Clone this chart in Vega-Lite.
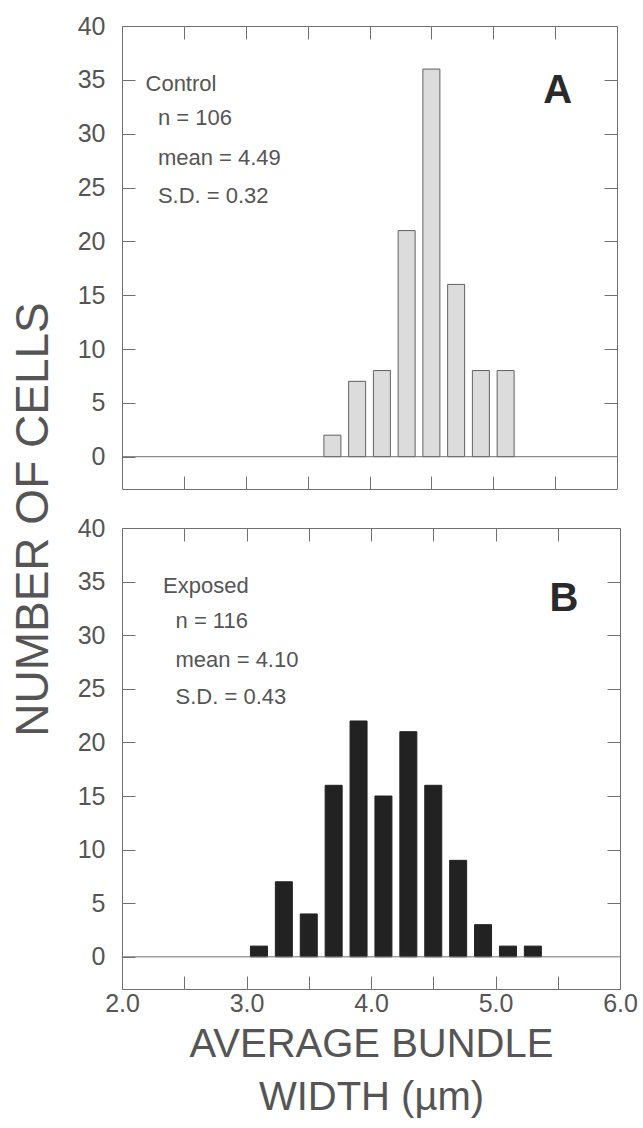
{
  "$schema": "https://vega.github.io/schema/vega-lite/v6.json",
  "background": "white",
  "padding": {"left": 10, "top": 13, "right": 0, "bottom": 3},
  "config": {
    "font": "Liberation Sans",
    "view": {"stroke": "#707070", "strokeWidth": 1},
    "axis": {
      "domain": false, "grid": false, "tickSize": -13, "tickColor": "#707070", "tickWidth": 1,
      "labelColor": "#555", "labelFontSize": 25, "labelFont": "Liberation Sans",
      "titleColor": "#555", "titleFont": "Liberation Sans", "titleFontWeight": "normal"
    },
    "title": {"font": "Liberation Sans"}
  },
  "title": {"text": "NUMBER OF CELLS", "orient": "left", "anchor": "middle", "fontSize": 46, "fontWeight": "normal", "color": "#555", "offset": 19, "dx": 46},
  "spacing": 25,
  "datasets": {
    "control": [
      {"width": 3.7, "cells": 2}, {"width": 3.9, "cells": 7}, {"width": 4.1, "cells": 8}, {"width": 4.3, "cells": 21},
      {"width": 4.5, "cells": 36}, {"width": 4.7, "cells": 16}, {"width": 4.9, "cells": 8}, {"width": 5.1, "cells": 8}
    ],
    "exposed": [
      {"width": 3.1, "cells": 1}, {"width": 3.3, "cells": 7}, {"width": 3.5, "cells": 4}, {"width": 3.7, "cells": 16},
      {"width": 3.9, "cells": 22}, {"width": 4.1, "cells": 15}, {"width": 4.3, "cells": 21}, {"width": 4.5, "cells": 16},
      {"width": 4.7, "cells": 9}, {"width": 4.9, "cells": 3}, {"width": 5.1, "cells": 1}, {"width": 5.3, "cells": 1}
    ],
    "notesA": [
      {"x": 2.19, "y": 34.6, "label": "Control"},
      {"x": 2.29, "y": 31.5, "label": "n = 106"},
      {"x": 2.29, "y": 27.7, "label": "mean = 4.49"},
      {"x": 2.29, "y": 24.2, "label": "S.D. = 0.32"}
    ],
    "notesB": [
      {"x": 2.33, "y": 34.6, "label": "Exposed"},
      {"x": 2.43, "y": 31.3, "label": "n = 116"},
      {"x": 2.43, "y": 27.7, "label": "mean = 4.10"},
      {"x": 2.43, "y": 24.2, "label": "S.D. = 0.43"}
    ],
    "letterA": [{"x": 5.52, "y": 34.0, "label": "A"}],
    "letterB": [{"x": 5.55, "y": 33.4, "label": "B"}],
    "baseline": [{"level": 0}]
  },
  "vconcat": [
    {
      "width": 495, "height": 463,
      "layer": [
        {
          "data": {"name": "control"},
          "mark": {"type": "bar", "width": 17, "fill": "#dcdcdc", "stroke": "#606060", "strokeWidth": 1},
          "encoding": {
            "x": {"field": "width", "type": "quantitative", "scale": {"domain": [2, 6], "nice": false, "zero": false, "padding": 0},
                  "axis": {"orient": "bottom", "values": [2.5, 3, 3.5, 4, 4.5, 5, 5.5], "labels": false, "title": null}},
            "y": {"field": "cells", "type": "quantitative", "scale": {"domain": [-3, 40], "nice": false, "zero": false},
                  "axis": {"orient": "left", "values": [0, 5, 10, 15, 20, 25, 30, 35, 40], "labelPadding": 30, "title": null}},
            "y2": {"datum": 0}
          }
        },
        {
          "data": {"name": "baseline"},
          "mark": {"type": "rule", "color": "#707070", "strokeWidth": 1},
          "encoding": {"y": {"field": "level", "type": "quantitative", "axis": null}}
        },
        {
          "data": {"name": "notesA"},
          "mark": {"type": "text", "align": "left", "baseline": "middle", "fontSize": 22, "color": "#555"},
          "encoding": {
            "x": {"field": "x", "type": "quantitative", "axis": {"orient": "top", "values": [2.5, 3, 3.5, 4, 4.5, 5, 5.5], "labels": false, "title": null}},
            "y": {"field": "y", "type": "quantitative", "axis": {"orient": "right", "values": [5, 10, 15, 20, 25, 30, 35], "labels": false, "title": null}},
            "text": {"field": "label"}
          }
        },
        {
          "data": {"name": "letterA"},
          "mark": {"type": "text", "align": "center", "baseline": "middle", "fontSize": 40, "fontWeight": "bold", "color": "#2a2a2a"},
          "encoding": {
            "x": {"field": "x", "type": "quantitative", "axis": null},
            "y": {"field": "y", "type": "quantitative", "axis": null},
            "text": {"field": "label"}
          }
        }
      ],
      "resolve": {"axis": {"x": "independent", "y": "independent"}}
    },
    {
      "width": 498, "height": 461,
      "layer": [
        {
          "data": {"name": "exposed"},
          "mark": {"type": "bar", "width": 17, "fill": "#222", "stroke": "#222", "strokeWidth": 1},
          "encoding": {
            "x": {"field": "width", "type": "quantitative", "scale": {"domain": [2, 6], "nice": false, "zero": false, "padding": 0},
                  "axis": {"orient": "bottom", "values": [2, 2.5, 3, 3.5, 4, 4.5, 5, 5.5, 6], "labelExpr": "datum.value % 1 === 0 ? format(datum.value, '.1f') : ''",
                           "labelFlush": false, "labelOverlap": false, "labelPadding": 15,
                           "title": ["AVERAGE BUNDLE", "WIDTH (µm)"], "titleFontSize": 40, "titleLineHeight": 53, "titlePadding": 8}},
            "y": {"field": "cells", "type": "quantitative", "scale": {"domain": [-3, 40], "nice": false, "zero": false},
                  "axis": {"orient": "left", "values": [0, 5, 10, 15, 20, 25, 30, 35, 40], "labelPadding": 30, "title": null}},
            "y2": {"datum": 0}
          }
        },
        {
          "data": {"name": "baseline"},
          "mark": {"type": "rule", "color": "#707070", "strokeWidth": 1},
          "encoding": {"y": {"field": "level", "type": "quantitative", "axis": null}}
        },
        {
          "data": {"name": "notesB"},
          "mark": {"type": "text", "align": "left", "baseline": "middle", "fontSize": 22, "color": "#555"},
          "encoding": {
            "x": {"field": "x", "type": "quantitative", "axis": {"orient": "top", "values": [2.5, 3, 3.5, 4, 4.5, 5, 5.5], "labels": false, "title": null}},
            "y": {"field": "y", "type": "quantitative", "axis": {"orient": "right", "values": [5, 10, 15, 20, 25, 30, 35], "labels": false, "title": null}},
            "text": {"field": "label"}
          }
        },
        {
          "data": {"name": "letterB"},
          "mark": {"type": "text", "align": "center", "baseline": "middle", "fontSize": 40, "fontWeight": "bold", "color": "#2a2a2a"},
          "encoding": {
            "x": {"field": "x", "type": "quantitative", "axis": null},
            "y": {"field": "y", "type": "quantitative", "axis": null},
            "text": {"field": "label"}
          }
        }
      ],
      "resolve": {"axis": {"x": "independent", "y": "independent"}}
    }
  ]
}
